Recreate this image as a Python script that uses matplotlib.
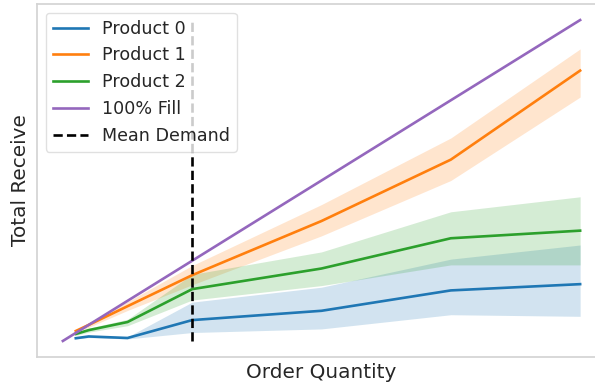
import matplotlib
matplotlib.use("Agg")
import matplotlib.pyplot as plt
import numpy as np

# Order quantities at which each product was simulated
order_qty = [1, 2, 5, 10, 20, 30, 40]
mean_demand = 10

# Mean total received per product
product0 = [0.34, 0.56, 0.37, 2.6, 3.76, 6.3, 7.08]
product1 = [1.24, 2.0, 4.33, 8.2, 14.95, 22.6, 33.7]
product2 = [0.87, 1.35, 2.36, 6.46, 9.03, 12.8, 13.75]

# Confidence band limits (low, high)
product0_low = [0.25, 0.42, 0.25, 1.05, 1.5, 3.27, 3.07]
product0_high = [0.45, 0.7, 0.5, 4.84, 6.7, 10.2, 11.96]
product1_low = [1.1, 1.7, 3.8, 7.0, 13.1, 20.0, 30.4]
product1_high = [1.4, 2.3, 4.9, 9.4, 17.0, 25.3, 36.4]
product2_low = [0.7, 1.1, 1.9, 5.1, 6.9, 9.48, 9.48]
product2_high = [1.05, 1.6, 2.7, 8.3, 11.1, 16.1, 17.97]

# Reference line: everything ordered is received
fill_qty = [0, 40]

labels = ["Product 0", "Product 1", "Product 2", "100% Fill", "Mean Demand"]
colors = ["#1f77b4", "#ff7f0e", "#2ca02c", "#9467bd"]

plt.rcParams["font.family"] = ["DejaVu Sans"]
fig = plt.figure(figsize=(5.95, 3.85), dpi=100)
ax = fig.add_axes([37 / 595, 28 / 385, 569 / 595, 353 / 385])

series = [
    (product0, product0_low, product0_high),
    (product1, product1_low, product1_high),
    (product2, product2_low, product2_high),
]
for (mean, lo, hi), lab, c in zip(series, labels[:3], colors[:3]):
    ax.fill_between(order_qty, lo, hi, color=c, alpha=0.2, linewidth=0)
    ax.plot(order_qty, mean, color=c, lw=1.9, label=lab)

ax.plot(fill_qty, fill_qty, color=colors[3], lw=1.9, label=labels[3])
ax.vlines(mean_demand, 0, 40, colors="black", linestyles=(0, (3.5, 1.6)),
          lw=1.9, label=labels[4])

ax.set_xlim(-2, 42)
ax.set_ylim(-2, 42)
ax.set_xticks([])
ax.set_yticks([])
for sp in ax.spines.values():
    sp.set_color("#d4d4d4")
    sp.set_linewidth(1.25)

ax.set_xlabel("Order Quantity", fontsize=14.4, color="#262626", labelpad=4)
ax.set_ylabel("Total Receive", fontsize=14.4, color="#262626", labelpad=5)

leg = ax.legend(loc="upper left", fontsize=12.6, framealpha=0.8,
                edgecolor="#d9d9d9", labelcolor="#262626")
leg.get_frame().set_linewidth(1.0)

fig.savefig("out.png", dpi=100)
